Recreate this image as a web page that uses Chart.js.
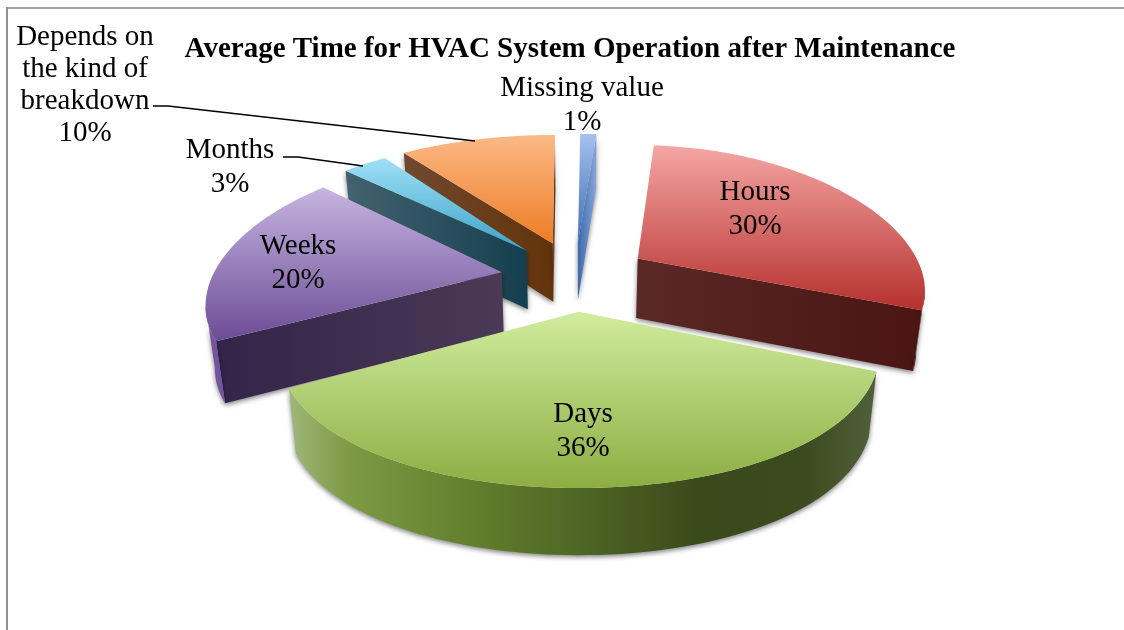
<!DOCTYPE html>
<html><head><meta charset="utf-8">
<style>html,body{margin:0;padding:0;background:#fff}canvas{display:block}</style>
<script src="https://cdn.jsdelivr.net/npm/chart.js@4"></script></head>
<body><canvas id="c" width="1124" height="630"></canvas>
<script>
const chartTitle = 'Average Time for HVAC System Operation after Maintenance';
const categories = ['Missing value','Hours','Days','Weeks','Months','Depends on the kind of breakdown'];
const values = [1,30,36,20,3,10];
const wrappedNames = [['Missing value'],['Hours'],['Days'],['Weeks'],['Months'],['Depends on','the kind of','breakdown']];
const labelCenters = [[582,88],[755,192],[583,414],[298,246],[230,150],[85,37]];
const topColors = [['#a6c0ef','#3c6cb2'],['#f5a6a4','#b5302d'],['#d0ec9e','#8cae42'],['#c6b4e0','#6c4c95'],['#9fe0f8','#3ca3c6'],['#fbb986','#ee7c25']];
const faceColors = [['#3b6aac','#8aa6d8'],['#5a2826','#4a1513'],['#5a7a2a','#5a7a2a'],['#33244a','#4a3a55'],['#44626f','#143f4e'],['#70492f','#63330b']];
const wallStops = [
  [[0,'#4a78b8'],[1,'#4a78b8']],
  [[0,'#4a1513'],[1,'#4a1513']],
  [[0,'#a0b87c'],[0.1,'#7d9a44'],[0.35,'#5d7a2a'],[0.7,'#3a4a1b'],[0.88,'#3c4b1f'],[1,'#50603a']],
  [[0,'#75559f'],[1,'#5a3f85']],
  [[0,'#44626f'],[1,'#44626f']],
  [[0,'#70492f'],[1,'#70492f']]];
const drawOrder = [0,5,4,1,3,2];
const sliceStretch = [1.1,0.955,1,0.985,1,1.05];
const explode = 35, spreadX = 2.11, perspX = 0.24, perspY = 0.15, perspD = 0.05, converge = 0.975;
const baseA = 292, baseB = 137, slopeB = 0.365, depthBase = 61, depthSlope = 0.08;
const shiftX = 5;

function sliceGeom(arc,i){
  const p = arc.getProps(['x','y','startAngle','endAngle']);
  const mid = (p.startAngle+p.endAngle)/2, off = arc.options.offset;
  const dy = Math.sin(mid)*off, cx = p.x+shiftX;
  const ax = cx+Math.cos(mid)*off*spreadX, ay = p.y+dy;
  const A = baseA*sliceStretch[i], B = baseB+slopeB*dy, D = depthBase+depthSlope*dy;
  const at = a=>{const u=Math.cos(a),v=Math.sin(a);return [ax+A*u/(1-perspX*v),ay+B*v/(1-perspY*v),D/(1-perspD*v)];};
  const low = q=>[cx+(q[0]-cx)*converge,q[1]+q[2]];
  return {ax,ay,D,at,low,start:p.startAngle,end:p.endAngle,mid};
}
function poly(ctx,pts){ctx.beginPath();pts.forEach((q,i)=>i?ctx.lineTo(q[0],q[1]):ctx.moveTo(q[0],q[1]));ctx.closePath();}
function hGrad(ctx,x0,x1,stops){const g=ctx.createLinearGradient(x0,0,x1+0.01,0);stops.forEach(s=>g.addColorStop(s[0],s[1]));return g;}

const pie3d = {
  id:'pie3d',
  beforeDraw(chart){
    const c=chart.ctx;c.save();c.lineWidth=2;
    c.strokeStyle='#a2a2a2';c.beginPath();c.moveTo(6,8);c.lineTo(1124,8);c.stroke();
    c.strokeStyle='#929292';c.beginPath();c.moveTo(7,7);c.lineTo(7,630);c.stroke();c.restore();
  },
  beforeDatasetDraw(chart,args){
    const ctx=chart.ctx, arcs=chart.getDatasetMeta(args.index).data;
    drawOrder.forEach(i=>{
      const g=sliceGeom(arcs[i],i), n=80, rim=[];
      for(let k=0;k<=n;k++)rim.push(g.at(g.start+(g.end-g.start)*k/n));
      const xs=rim.map(q=>q[0]).concat(g.ax), ys=rim.map(q=>q[1]).concat(g.ay);
      const x0=Math.min(...xs),x1=Math.max(...xs),y0=Math.min(...ys),y1=Math.max(...ys);
      const M=g.at(g.mid);
      ctx.save();
      ctx.shadowColor='rgba(0,0,0,0.5)';ctx.shadowBlur=5;ctx.shadowOffsetX=0;ctx.shadowOffsetY=2;
      const apexLow=g.low([g.ax,g.ay,g.D]);
      [rim[0],rim[n]].forEach(Q=>{
        const dx=Q[0]-g.ax, lineY=Math.abs(dx)<1e-6?Infinity:g.ay+(M[0]-g.ax)*(Q[1]-g.ay)/dx;
        if(M[1]<lineY){
          poly(ctx,[[g.ax,g.ay],[Q[0],Q[1]],g.low(Q),apexLow]);
          ctx.fillStyle=hGrad(ctx,Math.min(Q[0],g.ax),Math.max(Q[0],g.ax),[[0,faceColors[i][0]],[1,faceColors[i][1]]]);
          ctx.fill();
        }
      });
      let run=[];
      const flush=()=>{
        if(run.length>1){
          const pts=run.map(q=>[q[0],q[1]]).concat(run.slice().reverse().map(g.low));
          poly(ctx,pts);ctx.fillStyle=hGrad(ctx,x0,x1,wallStops[i]);ctx.fill();
        }
        run=[];
      };
      for(let k=0;k<n;k++){
        if(rim[k+1][0]<rim[k][0]){if(!run.length)run.push(rim[k]);run.push(rim[k+1]);}else flush();
      }
      flush();
      ctx.shadowColor='transparent';
      poly(ctx,[[g.ax,g.ay]].concat(rim));
      const t=ctx.createLinearGradient(0,y0,0,y1);t.addColorStop(0,topColors[i][0]);t.addColorStop(1,topColors[i][1]);
      ctx.fillStyle=t;ctx.fill();
      ctx.restore();
    });
    return false;
  },
  afterDraw(chart){
    const c=chart.ctx;c.save();
    c.strokeStyle='#000';c.lineWidth=1.6;
    c.beginPath();c.moveTo(153,106);c.lineTo(168,106);c.lineTo(475,141);
    c.moveTo(283,157);c.lineTo(298,157);c.lineTo(363,166);c.stroke();
    c.fillStyle='#000';c.font='29px "Liberation Serif"';c.textAlign='center';c.textBaseline='middle';
    categories.forEach((name,i)=>{
      const [x,y]=labelCenters[i];
      const lines=wrappedNames[i].concat(values[i]+'%');
      const s=lines.length===2?34:32;
      lines.forEach((l,k)=>c.fillText(l,x,y+k*s));
    });
    c.restore();
  }
};
new Chart(document.getElementById('c'),{
  type:'pie',
  data:{labels:categories,datasets:[{data:values,offset:explode,backgroundColor:topColors.map(t=>t[1]),borderWidth:0}]},
  options:{
    responsive:false,animation:false,radius:100,rotation:0.5,
    layout:{padding:{left:16,right:0,top:0,bottom:143}},
    plugins:{legend:{display:false},tooltip:{enabled:false},
      title:{display:true,text:chartTitle,fullSize:false,color:'#000',
        font:{family:'"Liberation Serif"',size:29,weight:'bold',lineHeight:1.2},padding:{top:32,bottom:0}}}
  },
  plugins:[pie3d]
});
</script></body></html>
